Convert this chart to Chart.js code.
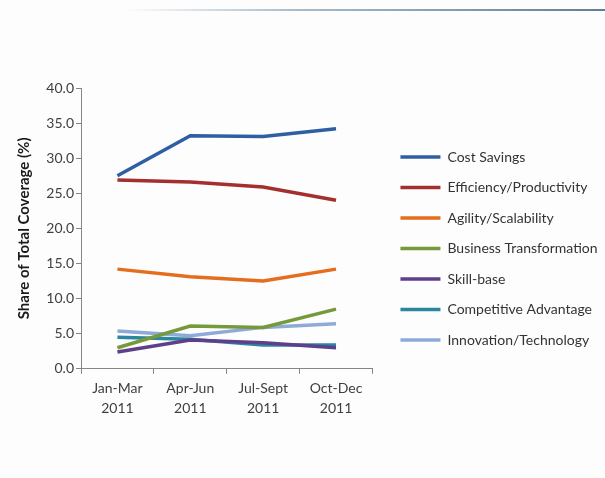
<!DOCTYPE html>
<html>
<head>
<meta charset="utf-8">
<script src="https://cdn.jsdelivr.net/npm/chart.js@4"></script>
<style>
    html, body { margin: 0; padding: 0; background: #fdfdfd; }
    .top-rule {
        position: absolute;
        left: 125px; top: 9px;
        width: 480px; height: 2px;
        background: linear-gradient(to right, rgba(95,127,149,0), #a9bccb 35%, #5f7f95);
    }
    .chart-box { position: absolute; left: 0; top: 0; width: 605px; height: 478px; }
</style>
</head>
<body>
<div class="top-rule"></div>
<div class="chart-box"><canvas id="coverageChart"></canvas></div>
<script>
// quarters on the x axis
const quarters = [
    ["Jan-Mar", "2011"],
    ["Apr-Jun", "2011"],
    ["Jul-Sept", "2011"],
    ["Oct-Dec", "2011"]
];

// share of total coverage (%) per theme
const costSavings    = [27.5, 33.2, 33.1, 34.2];
const efficiency     = [26.9, 26.6, 25.9, 24.0];
const agility        = [14.2, 13.1, 12.5, 14.2];
const transformation = [3.0, 6.1, 5.9, 8.5];
const skillBase      = [2.4, 4.1, 3.7, 3.0];
const competitive    = [4.5, 4.2, 3.4, 3.4];
const innovation     = [5.4, 4.7, 5.9, 6.4];

const yTicks = [0, 5, 10, 15, 20, 25, 30, 35, 40];

const FONT = "Lato, 'Open Sans', sans-serif";

function makeLine(label, data, color) {
    return {
        label,
        data,
        borderColor: color,
        backgroundColor: color,
        borderWidth: 3.5,
        pointRadius: 0,
        pointHoverRadius: 0,
        tension: 0,
        fill: false
    };
}

// chartArea ends at the x axis, legend sits a bit further right than Chart.js puts it
const legendNudge = {
    id: "legendNudge",
    afterLayout(chart) {
        const lg = chart.legend;
        if (!lg) return;
        lg.left += 11.5; lg.right += 11.5;
        lg.top -= 7; lg.bottom -= 7;
    }
};

window.onload = () => {
    const ctx = document.getElementById("coverageChart").getContext("2d");

    Chart.defaults.font.family = FONT;
    Chart.defaults.color = "#404040";

    new Chart(ctx, {
        type: "line",
        data: {
            labels: quarters,
            datasets: [
                makeLine("Cost Savings", costSavings, "#2f5fa3"),
                makeLine("Efficiency/Productivity", efficiency, "#a3302e"),
                makeLine("Agility/Scalability", agility, "#e46d1e"),
                makeLine("Business Transformation", transformation, "#76993a"),
                makeLine("Skill-base", skillBase, "#5e3f8a"),
                makeLine("Competitive Advantage", competitive, "#2b87a0"),
                makeLine("Innovation/Technology", innovation, "#8eaad8")
            ]
        },
        plugins: [legendNudge],
        options: {
            responsive: true,
            maintainAspectRatio: false,
            animation: false,
            layout: {
                padding: { top: 88, bottom: 55, left: 15, right: 9 }
            },
            plugins: {
                tooltip: { enabled: false },
                legend: {
                    position: "right",
                    maxWidth: 240,
                    labels: {
                        boxWidth: 40,
                        boxHeight: 3.5,
                        padding: 16.5,
                        color: "#333",
                        font: { size: 14 },
                        generateLabels(chart) {
                            return Chart.defaults.plugins.legend.labels.generateLabels(chart)
                                .map(item => Object.assign(item, { lineWidth: 0 }));
                        }
                    }
                }
            },
            scales: {
                x: {
                    offset: true,
                    grid: {
                        offset: true,
                        drawOnChartArea: false,
                        tickLength: 5,
                        color: "#868686"
                    },
                    border: { color: "#868686", width: 1 },
                    ticks: {
                        padding: 5,
                        color: "#404040",
                        font: { size: 14, lineHeight: 1.4 },
                        maxRotation: 0
                    }
                },
                y: {
                    min: 0,
                    max: 40,
                    afterFit(scale) { scale.width = 66; },
                    afterBuildTicks(scale) {
                        scale.ticks = yTicks.map(v => ({ value: v }));
                    },
                    grid: {
                        drawOnChartArea: false,
                        tickLength: 5,
                        color: "#868686"
                    },
                    border: { color: "#868686", width: 1 },
                    ticks: {
                        padding: 2,
                        color: "#404040",
                        font: { size: 14 },
                        callback: v => v.toFixed(1)
                    },
                    title: {
                        display: true,
                        text: "Share of Total Coverage (%)",
                        color: "#1a1a1a",
                        padding: { top: 0, bottom: 0 },
                        font: { size: 15, weight: "bold" }
                    }
                }
            }
        }
    });
};
</script>
</body>
</html>
